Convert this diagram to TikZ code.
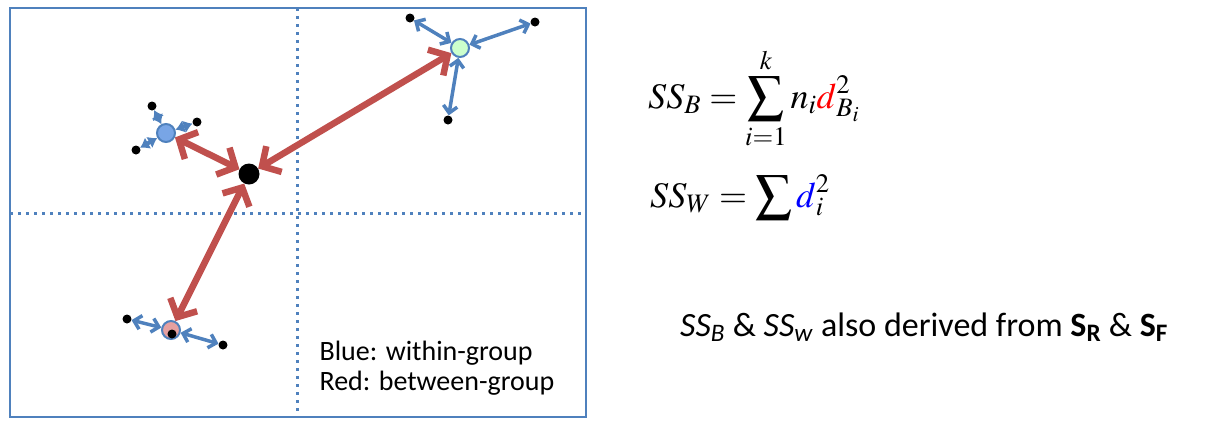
\documentclass[tikz,border=0pt]{standalone}
\usepackage{mathptmx}
\usepackage{fontspec}
\setmainfont{Carlito}
\usetikzlibrary{arrows.meta}
\definecolor{frameblue}{RGB}{79,129,189}
\definecolor{betweenred}{RGB}{192,80,77}
\definecolor{blueglob}{RGB}{120,165,230}
\definecolor{greenglob}{RGB}{204,255,204}
\definecolor{redglob}{RGB}{230,160,160}

\begin{document}
\begin{tikzpicture}[x=1pt,y=-1pt,
	obs/.style={circle,fill=black,inner sep=0pt,minimum size=9pt},
	grp/.style={circle,draw=frameblue,line width=2pt,inner sep=0pt,minimum size=18pt},
	within/.style={frameblue,line width=3.5pt,{Straight Barb[length=7pt,width=14pt]}-{Straight Barb[length=7pt,width=14pt]}},
	kite/.style={frameblue,line width=4pt,{Latex[length=9pt,width=13pt]}-{Latex[length=9pt,width=13pt]}},
	between/.style={betweenred,line width=6.5pt,{Straight Barb[length=14pt,width=30pt]}-{Straight Barb[length=14pt,width=30pt]}},
	grid/.style={frameblue,line width=3pt,dash pattern=on 3pt off 5pt}]
		\useasboundingbox (0,0) rectangle (1232,432);
		
		% frame and quadrants
		\draw [grid] (297,8) -- (297,417);
		\draw [grid] (10,213) -- (586,213);
		\draw [frameblue, line width=2pt] (10,8) rectangle (586,417);
		
		% grand centroid
		\node [circle, fill=black, minimum size=21pt, inner sep=0pt] (Mean) at (249,174) {};
		
		% group 1 (blue)
		\node [grp, fill=blueglob] (BlueC) at (166,133) {};
		\node [obs] (B1) at (152,106) {};
		\node [obs] (B2) at (197,122) {};
		\node [obs] (B3) at (136,150) {};
		\draw [kite] (BlueC) -- (B1);
		\draw [kite] (BlueC) -- (B2);
		\draw [kite] (BlueC) -- (B3);
		
		% group 2 (green)
		\node [grp, fill=greenglob] (GreenC) at (460,48) {};
		\node [obs] (G1) at (410,18) {};
		\node [obs] (G2) at (535,22) {};
		\node [obs] (G3) at (448,120) {};
		\draw [within] (GreenC) -- (G1);
		\draw [within] (GreenC) -- (G2);
		\draw [within] (GreenC) -- (G3);
		
		% group 3 (red)
		\node [grp, fill=redglob] (RedC) at (171,330) {};
		\node [obs] (R1) at (127,319) {};
		\node [obs] (R2) at (223,345) {};
		\node [obs] (R3) at (172,334) {};
		\draw [within] (RedC) -- (R1);
		\draw [within] (RedC) -- (R2);
		
		% between-group distances
		\draw [between] (Mean) -- (BlueC);
		\draw [between] (Mean) -- (GreenC);
		\draw [between] (Mean) -- (RedC);
		
		\node [anchor=base west, align=left, font=\fontsize{28}{30}\selectfont] (Legend) at (316,390)
			{Blue: within-group\\Red: between-group};
		
		% formulas
		\node [anchor=base west, inner sep=0pt, font=\fontsize{36}{40}\selectfont] (SSB) at (648,108)
			{$\displaystyle SS_B = \sum_{i=1}^{k} n_i {\color{red}d}_{B_i}^2$};
		\node [anchor=base west, inner sep=0pt, font=\fontsize{36}{40}\selectfont] (SSW) at (650,207)
			{$\displaystyle SS_W = \sum {\color{blue}d}_i^2$};
		\node [anchor=base west, inner sep=0pt, font=\fontsize{34}{40}\selectfont] (Note) at (680,336)
			{\textit{SS}\textsubscript{\textit{B}} \& \textit{SS}\textsubscript{\textit{w}} also derived from \textbf{S}\textsubscript{\textbf{R}} \& \textbf{S}\textsubscript{\textbf{F}}};
\end{tikzpicture}
\end{document}
